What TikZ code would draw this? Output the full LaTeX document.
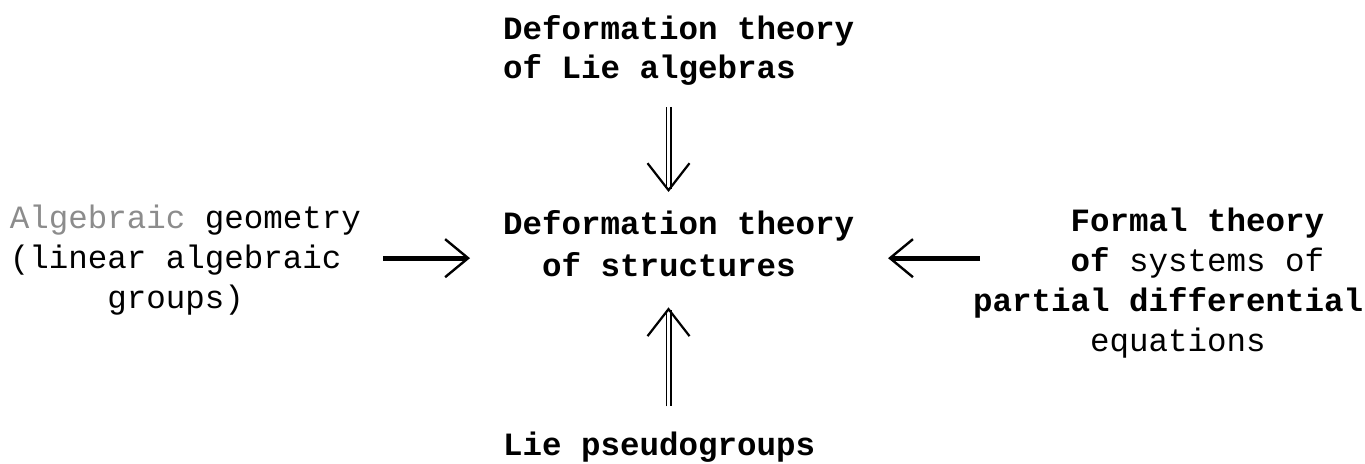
\documentclass[tikz,border=0pt]{standalone}
\usepackage{fontspec}
\setmonofont{Liberation Mono}
\usetikzlibrary{positioning,arrows.meta}

\tikzset{
  txt/.style={inner sep=0pt, outer sep=0pt, align=left, font=\ttfamily\fontsize{16.25pt}{20pt}\selectfont},
  dark/.style={txt, font=\ttfamily\bfseries\fontsize{16.25pt}{20pt}\selectfont},
  dbl/.style={double, double distance=1.8pt, line width=0.6pt, -{Straight Barb[length=13.5pt, width=21pt, line width=1.1pt]}},
  bar/.style={line width=2.5pt, -{Straight Barb[length=11.5pt, width=19pt, line width=1.2pt]}}
}

\begin{document}
\begin{tikzpicture}[x=0.5pt, y=0.5pt]
\useasboundingbox (0,0) rectangle (1365,464);

\node[dark, anchor=north west, font=\ttfamily\bfseries\fontsize{16.25pt}{21pt}\selectfont] (defstr) at (503,254) {Deformation theory\\\hphantom{xx}of structures};
\node[dark, above=62.5pt of defstr.north west, anchor=south west, font=\ttfamily\bfseries\fontsize{16.25pt}{19.5pt}\selectfont] (liealg) {Deformation theory\\of Lie algebras};
\node[dark, below=78pt of defstr.south west, anchor=north west] (pseudo) {Lie pseudogroups};
\node[txt, left=71pt of defstr.north west, anchor=north east, yshift=2.5pt] (alggeo) {\textcolor{black!45}{Algebraic} geometry\\(linear algebraic\\\hphantom{xxxxx}groups)};
\node[txt, right=59.5pt of defstr.north east, anchor=north west, yshift=1pt] (formal) {\hphantom{xxxxx}\textbf{Formal theory}\\\hphantom{xxxxx}\textbf{of} systems of\\\textbf{partial differential}\\\hphantom{xxxxxx}equations};

\coordinate (ax) at ([xshift=-5pt]defstr.center);
\coordinate (ay) at ([yshift=-7.5pt]defstr.center);

\draw[dbl, shorten <=11pt, shorten >=9pt] (liealg.south -| ax) -- (defstr.north -| ax);
\draw[dbl, shorten <=13pt, shorten >=15.5pt] (pseudo.north -| ax) -- (defstr.south -| ax);
\draw[bar, shorten <=11pt, shorten >=16.5pt] (alggeo.east |- ay) -- (defstr.west |- ay);
\draw[bar, shorten <=-3.5pt, shorten >=17pt] (formal.west |- ay) -- (defstr.east |- ay);
\end{tikzpicture}
\end{document}
